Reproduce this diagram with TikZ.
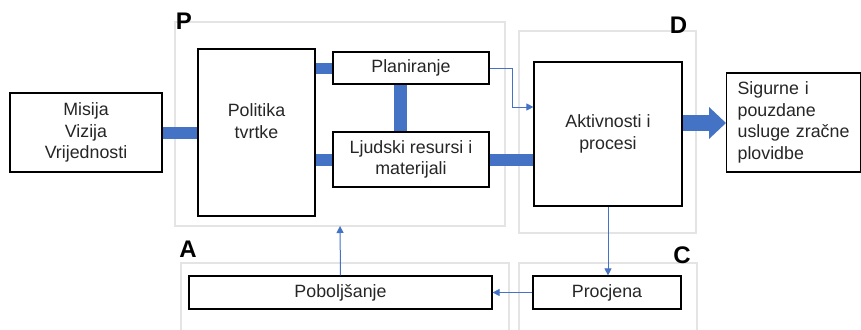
\documentclass[tikz,border=0pt]{standalone}
\usepackage{fontspec}
\setmainfont{Liberation Sans}
\usetikzlibrary{arrows.meta}
\definecolor{accblue}{HTML}{4472C4}
\definecolor{framegray}{HTML}{E4E4E4}
\definecolor{txt}{HTML}{262626}
\tikzset{
  box/.style={draw=black, line width=1.2pt, fill=white, inner sep=0pt, align=center, text=txt,
              font=\fontsize{17.8}{21.5}\selectfont},
  frame/.style={draw=framegray, line width=1.5pt},
  letter/.style={font=\fontsize{24}{24}\selectfont\bfseries, text=black, inner sep=0pt},
  thick link/.style={draw=accblue},
  thin arrow/.style={draw=accblue, line width=1pt, -{Triangle[length=7pt,width=7pt]}},
}
\begin{document}
\begin{tikzpicture}[x=1pt,y=-1pt]
\clip (0,0) rectangle (861,329);
\fill[white] (0,0) rectangle (861,329);
% frames
\draw[frame] (175,22) rectangle (505,226);
\coordinate (pfb) at (340,226);
\draw[frame] (519,31) rectangle (696,233);
\draw[frame] (181,263) rectangle (509,340);
\draw[frame] (519,263) rectangle (697,340);
% letters
\node[letter] (lp) at (184,21.5) {P};
\node[letter] (ld) at (678.5,25) {D};
\node[letter] (la) at (188,249) {A};
\node[letter] (lc) at (682,255) {C};
% boxes
\node[box, minimum width=152pt, minimum height=79pt] (mis) at (86,132.5) {Misija\\Vizija\\Vrijednosti};
\node[box, minimum width=117pt, minimum height=167pt,
      label={[box, draw=none, fill=none, yshift=11.5pt]center:Politika\\tvrtke}] (pol) at (256.5,132.5) {};
\node[box, minimum width=156pt, minimum height=32pt] (plan) at (411,68) {Planiranje};
\node[box, minimum width=156pt, minimum height=55pt] (ljud) at (411,159.5) {Ljudski resursi i\\materijali};
\node[box, minimum width=148pt, minimum height=144pt] (akt) at (608,134) {Aktivnosti i\\procesi};
\node[box, anchor=west, align=left, text width=112pt, inner xsep=11pt, minimum height=99pt] (sig) at (726,122.5)
  {Sigurne i\\pouzdane\\usluge zračne\\plovidbe};
\node[box, minimum width=303pt, minimum height=33pt] (pob) at (340.5,292.5) {Poboljšanje};
\node[box, minimum width=148pt, minimum height=33pt] (proc) at (607,292.5) {Procjena};
% thick connectors
\draw[thick link, line width=12pt] (mis.east) -- (pol.west);
\draw[thick link, line width=11pt] (pol.east |- plan.west) -- (plan.west);
\draw[thick link, line width=12pt] (pol.east |- ljud.west) -- (ljud.west);
\draw[thick link, line width=13pt] ([xshift=-11pt]plan.south) -- ([xshift=-11pt]ljud.north);
\draw[thick link, line width=12pt] (ljud.east) -- (ljud.east -| akt.west);
\draw[accblue, line width=16pt, -{Triangle[length=17pt,width=31pt]}]
  ([yshift=11pt]akt.east) -- ([yshift=11pt]akt.east -| sig.west);
% thin arrows
\draw[thin arrow] (plan.east) -- ++(23,0) |- ([yshift=27pt]akt.west);
\draw[thin arrow] (akt.south) -- (akt.south |- proc.north);
\draw[thin arrow] (proc.west) -- (pob.east);
\draw[thin arrow] (pob.north) -- (pfb);
\end{tikzpicture}
\end{document}
